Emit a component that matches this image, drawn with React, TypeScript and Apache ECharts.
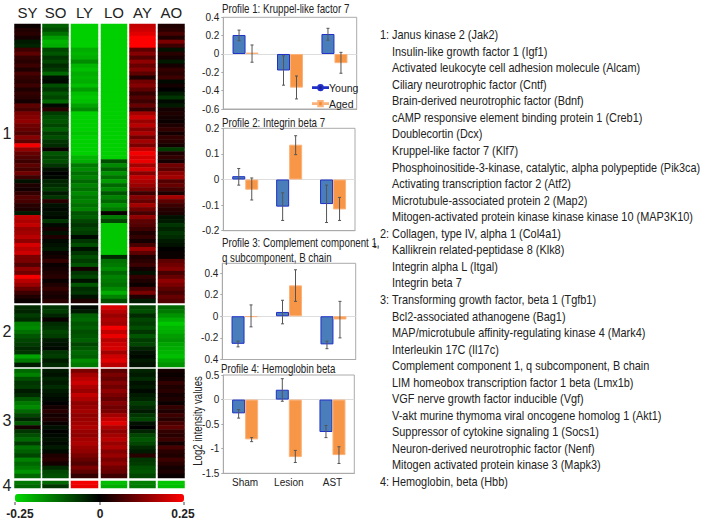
import React, { useEffect, useRef } from "react";
import * as echarts from "echarts";

// Heatmap values, in hundredths of a log2 unit (-25 .. 25), top row first.
const columnNames = ["SY", "SO", "LY", "LO", "AY", "AO"];
const c1SY = [1,3,4,2,-3,-4,6,9,5,4,6,3,7,5,4,6,3,5,4,2,9,7,12,13,14,11,10,8,13,9,24,14,10,8,6,9,7,11,6,-2,3,2,5,8,7,4,3,-3,19,17,19,15,16,18,14,21,18,20,12,12,8,14,11,24,18,15,10,6,3,1];
const c1SO = [-11,-9,-13,-18,-21,-20,-8,-10,-6,-8,-5,-7,-12,-2,-1,-9,-6,-10,-8,-12,-1,4,-7,-9,-10,-8,-11,-7,-9,-6,-5,1,-10,-8,-9,-6,-2,0,-1,-4,-5,-7,-3,-6,4,-2,-1,-2,-1,-6,-1,2,-2,3,-1,-2,-3,1,2,5,1,2,3,4,1,3,5,3,2,4];
const c1LY = [-24,-24,-24,-24,-24,-24,-20,-21,-20,-16,-21,-22,-20,-21,-20,-22,-18,-22,-23,-22,-19,-16,-24,-24,-24,-24,-24,-23,-24,-24,-24,-24,-24,-21,-20,-14,-16,-13,-15,-12,-15,-13,-16,-14,-15,-13,-15,-10,-11,-8,-6,-8,-7,-1,-6,-9,-2,-6,-9,-7,-10,2,-6,-8,-2,-10,-5,-6,-2,3];
const c1LO = [-24,-24,-24,-24,-24,-24,-24,-24,-24,-24,-24,-24,-24,-24,-24,-24,-24,-24,-24,-24,-24,-24,-24,-24,-24,-24,-24,-24,-24,-24,-24,-24,-24,-24,-9,-16,-11,-17,-13,-18,-12,-16,-10,-15,-12,-17,-14,1,-14,-8,-23,-23,-23,-23,-23,-23,-23,-23,-5,-13,-14,-16,-12,-15,-14,-13,-16,-20,-15,-9];
const c1AY = [19,20,22,25,25,25,9,13,8,14,10,13,9,3,11,13,9,5,8,6,10,5,16,20,15,18,13,17,11,16,12,19,24,21,23,16,21,13,19,17,15,12,6,13,10,16,11,7,14,9,8,6,3,5,2,7,15,9,3,4,6,2,-2,5,3,1,7,12,3,-3];
const c1AO = [3,4,7,3,12,6,-2,4,2,-3,2,5,4,6,-1,2,0,-3,-6,-1,-3,2,3,2,1,3,5,2,5,4,2,-7,3,5,2,11,9,14,16,8,10,7,3,16,9,6,4,3,-2,-3,-6,-4,-6,-5,-3,-2,0,1,1,9,11,13,7,10,14,12,9,7,10,8];
const c2SY = [-5,-4,-7,-5,-15,-16,-13,-10,-8,-7,-5,-6,-19,-14,-3];
const c2SO = [-6,-7,-4,1,-5,-6,-8,-7,-3,-2,-1,-6,-7,-3,-5];
const c2LY = [-1,-3,-11,-12,-10,-11,-9,-10,-11,-8,-10,-12,-11,-16,-14];
const c2LO = [21,18,15,17,16,24,19,23,18,20,21,16,20,22,18];
const c2AY = [-8,-9,-5,-8,-7,-9,-6,-10,-7,-8,-4,-2,-1,-3,-2];
const c2AO = [-12,-14,-17,-20,-23,-21,-20,-18,-17,-19,-20,-21,-22,-19,-17];
const c3SY = [-12,-15,-9,-6,-7,-3,-5,-10,-14,-16,-12,-8,-4,-10,2,-6,-9,-12,-7,-13,-11,-8,-15,-12,-14,-17,-12];
const c3SO = [-3,-2,-4,-3,-5,-3,-2,-1,0,2,4,2,3,1,-2,0,-1,-2,-1,-3,-1,3,4,2,-5,-8,-9];
const c3LY = [12,16,18,20,17,15,19,17,14,15,16,14,15,16,17,15,14,16,17,15,14,12,10,8,12,9,5];
const c3LO = [9,12,10,13,11,14,12,10,13,11,12,16,19,22,17,14,16,18,15,17,13,15,12,14,11,10,6];
const c3AY = [-4,-3,-5,-2,-3,-1,-3,-4,-7,-5,-3,-6,-8,-2,0,-4,-8,-10,-8,-5,-3,4,-6,-7,-9,-10,-8];
const c3AO = [2,1,2,5,3,4,2,3,1,5,3,6,4,7,9,5,4,6,2,7,4,3,6,4,2,3,1];
const c4SY = [-14, -12];
const c4SO = [-12, -6];
const c4LY = [24, 23];
const c4LO = [-22, -20];
const c4AY = [-15, -14];
const c4AO = [-23, -22];
const clusterNames = ["1", "2", "3", "4"];
const clusters = [
  [c1SY, c1SO, c1LY, c1LO, c1AY, c1AO],
  [c2SY, c2SO, c2LY, c2LO, c2AY, c2AO],
  [c3SY, c3SO, c3LY, c3LO, c3AY, c3AO],
  [c4SY, c4SO, c4LY, c4LO, c4AY, c4AO],
];
const scaleTicks = ["-0.25", "0", "0.25"];

// Bar panels
const groups = ["Sham", "Lesion", "AST"];
const young1 = [0.207, -0.18, 0.218];
const aged1 = [0.015, -0.367, -0.1];
const youngErr1 = [[0.145, 0.26], [-0.34, -0.02], [0.15, 0.28]];
const agedErr1 = [[-0.09, 0.098], [-0.49, -0.24], [-0.21, 0.018]];
const ticks1 = [-0.6, -0.4, -0.2, 0, 0.2, 0.4];
const tickLabels1 = ["-0.6", "-0.4", "-0.2", "0", "0.2", "0.4"];

const young2 = [0.013, -0.106, -0.096];
const aged2 = [-0.04, 0.136, -0.117];
const youngErr2 = [[-0.022, 0.043], [-0.16, -0.052], [-0.168, -0.022]];
const agedErr2 = [[-0.08, 0.006], [0.097, 0.171], [-0.16, -0.07]];
const ticks2 = [-0.2, -0.1, 0, 0.1, 0.2];
const tickLabels2 = ["-0.2", "-0.1", "0", "0.1", "0.2"];

const young3 = [-0.255, 0.04, -0.26];
const aged3 = [-0.006, 0.286, -0.03];
const youngErr3 = [[-0.283, -0.23], [-0.07, 0.148], [-0.3, -0.23]];
const agedErr3 = [[-0.098, 0.105], [0.138, 0.43], [-0.2, 0.138]];
const ticks3 = [-0.4, -0.2, 0, 0.2, 0.4];
const tickLabels3 = ["0.4", "-0.2", "0", "0.2", "0.4"];

const young4 = [-0.28, 0.2, -0.66];
const aged4 = [-0.81, -1.17, -1.13];
const youngErr4 = [[-0.377, -0.205], [-0.034, 0.425], [-0.774, -0.527]];
const agedErr4 = [[-0.856, -0.774], [-1.28, -1.034], [-1.3, -0.96]];
const ticks4 = [-1.5, -1, -0.5, 0, 0.5];
const tickLabels4 = ["-1.5", "-1", "-0.5", "0", "0.5"];

const title1 = ["Profile 1: Kruppel-like factor 7"];
const title2 = ["Profile 2: Integrin beta 7"];
const title3 = ["Profile 3: Complement component 1,", "q subcomponent, B chain"];
const title4 = ["Profile 4: Hemoglobin beta"];
const yAxisTitle = "Log2 intensity values";

const genes1 = [
  "Janus kinase 2 (Jak2)",
  "Insulin-like growth factor 1 (Igf1)",
  "Activated leukocyte cell adhesion molecule (Alcam)",
  "Ciliary neurotrophic factor (Cntf)",
  "Brain-derived neurotrophic factor (Bdnf)",
  "cAMP responsive element binding protein 1 (Creb1)",
  "Doublecortin (Dcx)",
  "Kruppel-like factor 7 (Klf7)",
  "Phosphoinositide-3-kinase, catalytic, alpha polypeptide (Pik3ca)",
  "Activating transcription factor 2 (Atf2)",
  "Microtubule-associated protein 2 (Map2)",
  "Mitogen-activated protein kinase kinase kinase 10 (MAP3K10)",
];
const genes2 = [
  "Collagen, type IV, alpha 1 (Col4a1)",
  "Kallikrein related-peptidase 8 (Klk8)",
  "Integrin alpha L (Itgal)",
  "Integrin beta 7",
];
const genes3 = [
  "Transforming growth factor, beta 1 (Tgfb1)",
  "Bcl2-associated athanogene (Bag1)",
  "MAP/microtubule affinity-regulating kinase 4 (Mark4)",
  "Interleukin 17C (Il17c)",
  "Complement component 1, q subcomponent, B chain",
  "LIM homeobox transcription factor 1 beta (Lmx1b)",
  "VGF nerve growth factor inducible (Vgf)",
  "V-akt murine thymoma viral oncogene homolog 1 (Akt1)",
  "Suppressor of cytokine signaling 1 (Socs1)",
  "Neuron-derived neurotrophic factor (Nenf)",
  "Mitogen activated protein kinase 3 (Mapk3)",
];
const genes4 = ["Hemoglobin, beta (Hbb)"];
const geneGroups = [genes1, genes2, genes3, genes4];

// Layout
const FONT = "'Liberation Sans', Arial, sans-serif";
const TEXT = "#222";
const columnSpans = [[14.5, 40.5], [42.5, 68.5], [71, 98], [101, 127], [129.5, 155.5], [158, 184.5]];
const clusterSpans = [[24, 303], [305.5, 367], [369, 478], [481, 488]];
const clusterLabelY = [133, 331, 420, 485];
const panels = [
  { l: 223.3, r: 356.7, t: 17.3, b: 109, min: -0.6, max: 0.4, ticks: ticks1, labels: tickLabels1, young: young1, aged: aged1, ye: youngErr1, ae: agedErr1, title: title1, tx: 222, ty: [8.5] },
  { l: 223.3, r: 355, t: 128.3, b: 230.7, min: -0.2, max: 0.2, ticks: ticks2, labels: tickLabels2, young: young2, aged: aged2, ye: youngErr2, ae: agedErr2, title: title2, tx: 222, ty: [122.5] },
  { l: 222.3, r: 355.7, t: 263.3, b: 359.5, min: -0.4, max: 0.49, ticks: ticks3, labels: tickLabels3, young: young3, aged: aged3, ye: youngErr3, ae: agedErr3, title: title3, tx: 222, ty: [243, 257.5] },
  { l: 223.3, r: 354.3, t: 375, b: 473.3, min: -1.5, max: 0.5, ticks: ticks4, labels: tickLabels4, young: young4, aged: aged4, ye: youngErr4, ae: agedErr4, title: title4, tx: 221, ty: [368.5] },
];

function errorSeries(name: string, rows: number[][], offset: number, axis: number) {
  return {
    type: "custom",
    name: name + " error",
    xAxisIndex: axis,
    yAxisIndex: axis,
    z: 5,
    silent: true,
    data: rows.map((r, i) => [i, r[0], r[1]]),
    encode: { x: 0, y: [1, 2] },
    renderItem: (_: any, api: any) => {
      const lo = api.coord([api.value(0), api.value(1)]);
      const hi = api.coord([api.value(0), api.value(2)]);
      const x = lo[0] + offset;
      const style = { stroke: "#555", lineWidth: 1 };
      return {
        type: "group",
        children: [
          { type: "line", shape: { x1: x, y1: lo[1], x2: x, y2: hi[1] }, style },
          { type: "line", shape: { x1: x - 1.5, y1: lo[1], x2: x + 1.5, y2: lo[1] }, style },
          { type: "line", shape: { x1: x - 1.5, y1: hi[1], x2: x + 1.5, y2: hi[1] }, style },
        ],
      };
    },
  };
}

function buildOption() {
  const grid: any[] = [];
  const xAxis: any[] = [];
  const yAxis: any[] = [];
  const series: any[] = [];
  const heatIndex: number[] = [];

  clusters.forEach((cols, ci) => {
    cols.forEach((vals, k) => {
      const idx = grid.length;
      const [x0, x1] = columnSpans[k];
      const [y0, y1] = clusterSpans[ci];
      grid.push({ left: x0, width: x1 - x0, top: y0, height: y1 - y0 });
      xAxis.push({
        type: "category",
        gridIndex: idx,
        position: "top",
        data: [columnNames[k]],
        axisLine: { show: false },
        axisTick: { show: false },
        axisLabel: { show: ci === 0, fontSize: 15, fontFamily: FONT, color: TEXT, margin: 4 },
      });
      yAxis.push({
        type: "category",
        gridIndex: idx,
        inverse: true,
        data: vals.map((_, r) => String(r)),
        show: false,
      });
      heatIndex.push(series.length);
      series.push({
        type: "heatmap",
        name: columnNames[k] + " cluster " + clusterNames[ci],
        xAxisIndex: idx,
        yAxisIndex: idx,
        data: vals.map((v, r) => [0, r, v]),
        silent: true,
      });
    });
  });

  const graphic: any[] = [];
  panels.forEach((p, pi) => {
    const idx = grid.length;
    grid.push({
      left: p.l, width: p.r - p.l, top: p.t, height: p.b - p.t,
      show: true, borderColor: "#aaa", borderWidth: 1, backgroundColor: "#fff",
    });
    xAxis.push({
      type: "category",
      gridIndex: idx,
      data: groups,
      axisLine: { onZero: false, lineStyle: { color: "#aaa" } },
      axisTick: { show: false },
      axisLabel: { show: pi === 3, fontSize: 10, fontFamily: FONT, color: TEXT, margin: 4 },
    });
    yAxis.push({
      type: "value",
      gridIndex: idx,
      min: p.min,
      max: p.max,
      splitLine: { show: false },
      axisLine: { show: true, lineStyle: { color: "#aaa" } },
      axisTick: { show: true, length: 2, lineStyle: { color: "#aaa" }, customValues: p.ticks },
      axisLabel: {
        fontSize: 10,
        fontFamily: FONT,
        color: TEXT,
        margin: 4,
        customValues: p.ticks,
        formatter: (v: number) => p.labels[p.ticks.indexOf(v)],
      },
    });
    p.title.forEach((t, i) => {
      graphic.push({
        type: "text", x: p.tx, y: p.ty[i], scaleX: 0.81,
        style: { text: t, fontSize: 12, fontFamily: FONT, fill: TEXT, verticalAlign: "middle" },
      });
    });
    series.push({
      type: "bar",
      name: "Young",
      xAxisIndex: idx,
      yAxisIndex: idx,
      data: p.young,
      barWidth: 13,
      barGap: 0,
      itemStyle: { color: "#4a7ebb", borderColor: "#2030c8", borderWidth: 1 },
      markLine: {
        silent: true,
        symbol: "none",
        z: 1,
        label: { show: false },
        lineStyle: { color: "#ddd", width: 1, type: "solid" },
        data: [{ yAxis: 0 }],
      },
    });
    series.push({
      type: "bar",
      name: "Aged",
      xAxisIndex: idx,
      yAxisIndex: idx,
      data: p.aged,
      barWidth: 13,
      barGap: 0,
      itemStyle: { color: "#f79646", borderColor: "#fbb27a", borderWidth: 1 },
    });
    series.push(errorSeries("Young", p.ye, -6.5, idx));
    series.push(errorSeries("Aged", p.ae, 6.5, idx));
  });

  graphic.push({
    type: "text", x: 198, y: 421, rotation: Math.PI / 2, scaleX: 0.8,
    style: { text: yAxisTitle, fontSize: 12, fontFamily: FONT, fill: TEXT, align: "center", verticalAlign: "middle" },
  });
  clusterLabelY.forEach((y, i) => {
    graphic.push({
      type: "text", x: 7, y,
      style: { text: clusterNames[i], fontSize: 16, fontFamily: FONT, fill: TEXT, align: "center", verticalAlign: "middle" },
    });
  });
  const scaleX = [20, 100, 183];
  const tickX = [15, 100, 184];
  scaleTicks.forEach((t, i) => {
    graphic.push({
      type: "text", x: scaleX[i], y: 514,
      style: { text: t, fontSize: 12, fontWeight: "bold", fontFamily: FONT, fill: TEXT, align: "center", verticalAlign: "middle" },
    });
    graphic.push({
      type: "line",
      shape: { x1: tickX[i], y1: 502, x2: tickX[i], y2: 505 },
      style: { stroke: "#444", lineWidth: 1 },
    });
  });
  let row = 0;
  geneGroups.forEach((genes, gi) => {
    genes.forEach((g, i) => {
      const y = 35 + row * 16.55;
      if (i === 0) {
        graphic.push({
          type: "text", x: 380, y, scaleX: 0.91,
          style: { text: clusterNames[gi] + ":", fontSize: 12, fontFamily: FONT, fill: TEXT, verticalAlign: "middle" },
        });
      }
      graphic.push({
        type: "text", x: 392, y, scaleX: 0.91,
        style: { text: g, fontSize: 12, fontFamily: FONT, fill: TEXT, verticalAlign: "middle" },
      });
      row += 1;
    });
  });
  graphic.push({
    type: "text", x: 373, y: 245,
    style: { text: "1,", fontSize: 7, fontFamily: FONT, fill: TEXT, verticalAlign: "middle" },
  });

  return {
    animation: false,
    backgroundColor: "#fff",
    grid,
    xAxis,
    yAxis,
    series,
    graphic,
    legend: {
      orient: "vertical",
      left: 312,
      top: 82,
      padding: 0,
      itemGap: 5,
      itemWidth: 15,
      itemHeight: 6,
      textStyle: { fontSize: 10.5, fontFamily: FONT, color: TEXT, padding: [0, 0, 0, -4] },
      selectedMode: false,
      data: [
        { name: "Young", icon: "path://M0 4.5H7A3 3 0 0 1 13 4.5H20V5.5H13A3 3 0 0 1 7 5.5H0Z", itemStyle: { color: "#1a1f8c" } },
        { name: "Aged", icon: "path://M0 4.5H7V1.5H13V4.5H20V5.5H13V8.5H7V5.5H0Z", itemStyle: { color: "#f58a2e" } },
      ],
    },
    visualMap: {
      type: "continuous",
      seriesIndex: heatIndex,
      min: -25,
      max: 25,
      orient: "horizontal",
      left: 15,
      top: 494,
      padding: 0,
      itemWidth: 8,
      itemHeight: 169,
      calculable: false,
      hoverLink: false,
      inRange: { color: ["#00d800", "#000000", "#ff0000"] },
    },
  };
}

export default function App() {
  const ref = useRef<HTMLDivElement>(null);
  useEffect(() => {
    document.body.style.margin = "0";
    const chart = echarts.init(ref.current!, undefined, { renderer: "svg" });
    chart.setOption(buildOption() as any);
    return () => chart.dispose();
  }, []);
  return <div ref={ref} style={{ width: 702, height: 523 }} />;
}
